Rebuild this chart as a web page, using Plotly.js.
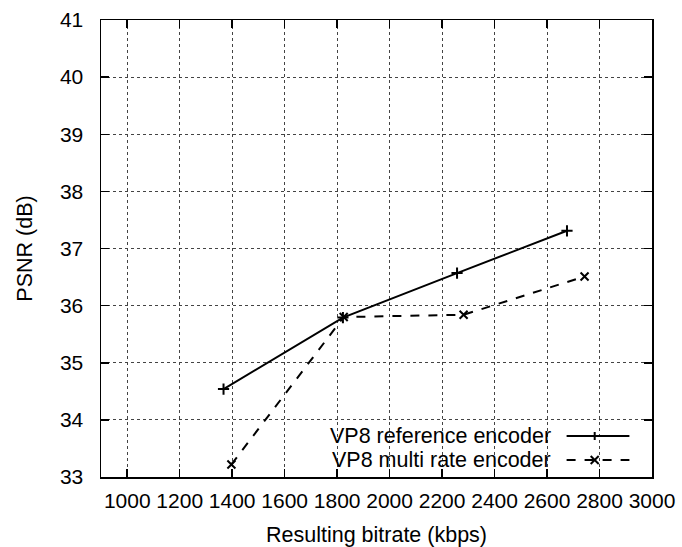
<!DOCTYPE html>
<html>
<head>
<meta charset="utf-8">
<script src="https://cdn.plot.ly/plotly-3.0.1.min.js"></script>
<style>html,body{margin:0;padding:0;background:#fff;}#chart{width:682px;height:547px;}</style>
</head>
<body>
<div id="chart"></div>
<script>
// Data
var refBitrate = [1367, 1822, 2257, 2676];
var refPSNR = [34.54, 35.79, 36.57, 37.31];
var multiBitrate = [1397, 1825, 2282, 2743];
var multiPSNR = [33.22, 35.80, 35.84, 36.51];
var seriesNames = ["VP8 reference encoder", "VP8 multi rate encoder"];
var xTicks = [1000, 1200, 1400, 1600, 1800, 2000, 2200, 2400, 2600, 2800, 3000];
var yTicks = [33, 34, 35, 36, 37, 38, 39, 40, 41];

var FONT = "Liberation Sans, Arial, Helvetica, sans-serif";
var FS = 21.5;
var TFS = 21;

var traces = [
  {x: refBitrate, y: refPSNR, name: seriesNames[0], mode: "lines+markers",
   line: {color: "#000", width: 2},
   marker: {symbol: "cross-thin", size: 8, color: "#000", line: {color: "#000", width: 2}}},
  {x: multiBitrate, y: multiPSNR, name: seriesNames[1], mode: "lines+markers",
   line: {color: "#000", width: 2, dash: "dash"},
   marker: {symbol: "x-thin", size: 8, color: "#000", line: {color: "#000", width: 2}}}
];

var legY = [0.0897, 0.0372];
var shapes = [];
var annotations = [];
for (var i = 0; i < 2; i++) {
  annotations.push({xref: "paper", yref: "paper", x: 0.82, y: legY[i], xanchor: "right", yanchor: "middle",
    text: seriesNames[i], showarrow: false, font: {family: FONT, size: FS, color: "#000"}});
  shapes.push({type: "line", xref: "paper", yref: "paper", x0: 0.845, x1: 0.959, y0: legY[i], y1: legY[i],
    line: {color: "#000", width: 2, dash: i === 0 ? "solid" : "dash"}});
}
// legend markers
var mx = 0.896;
shapes.push({type: "line", xref: "paper", yref: "paper", xsizemode: "pixel", ysizemode: "pixel",
  xanchor: mx, yanchor: legY[0], x0: 0, x1: 0, y0: -4, y1: 4, line: {color: "#000", width: 2}});
shapes.push({type: "line", xref: "paper", yref: "paper", xsizemode: "pixel", ysizemode: "pixel",
  xanchor: mx, yanchor: legY[1], x0: -4, x1: 4, y0: -4, y1: 4, line: {color: "#000", width: 2}});
shapes.push({type: "line", xref: "paper", yref: "paper", xsizemode: "pixel", ysizemode: "pixel",
  xanchor: mx, yanchor: legY[1], x0: -4, x1: 4, y0: 4, y1: -4, line: {color: "#000", width: 2}});

var layout = {
  width: 682, height: 547,
  margin: {l: 101, r: 30, t: 20, b: 70},
  paper_bgcolor: "#fff", plot_bgcolor: "#fff",
  showlegend: false,
  font: {family: FONT, size: FS, color: "#000"},
  xaxis: {
    range: [900, 3000], tickvals: xTicks, ticktext: xTicks.map(String),
    showline: true, linecolor: "#000", linewidth: 1.5, mirror: "ticks",
    ticks: "inside", ticklen: 8, tickcolor: "#000", tickwidth: 1.5,
    showgrid: true, gridcolor: "#444", griddash: "dot", gridwidth: 1,
    zeroline: false, tickfont: {family: FONT, size: TFS}, ticklabelstandoff: 4,
    automargin: false,
    title: {text: "Resulting bitrate (kbps)", font: {family: FONT, size: FS}, standoff: 16}
  },
  yaxis: {
    range: [33, 41], tickvals: yTicks, ticktext: yTicks.map(String),
    showline: true, linecolor: "#000", linewidth: 1.5, mirror: "ticks",
    ticks: "inside", ticklen: 8, tickcolor: "#000", tickwidth: 1.5,
    showgrid: true, gridcolor: "#444", griddash: "dot", gridwidth: 1,
    zeroline: false, tickfont: {family: FONT, size: TFS}, ticklabelstandoff: 12,
    automargin: false,
    title: {text: "PSNR (dB)", font: {family: FONT, size: FS}, standoff: 21}
  },
  shapes: shapes,
  annotations: annotations
};

Plotly.newPlot("chart", traces, layout, {displayModeBar: false, staticPlot: true});
</script>
</body>
</html>
